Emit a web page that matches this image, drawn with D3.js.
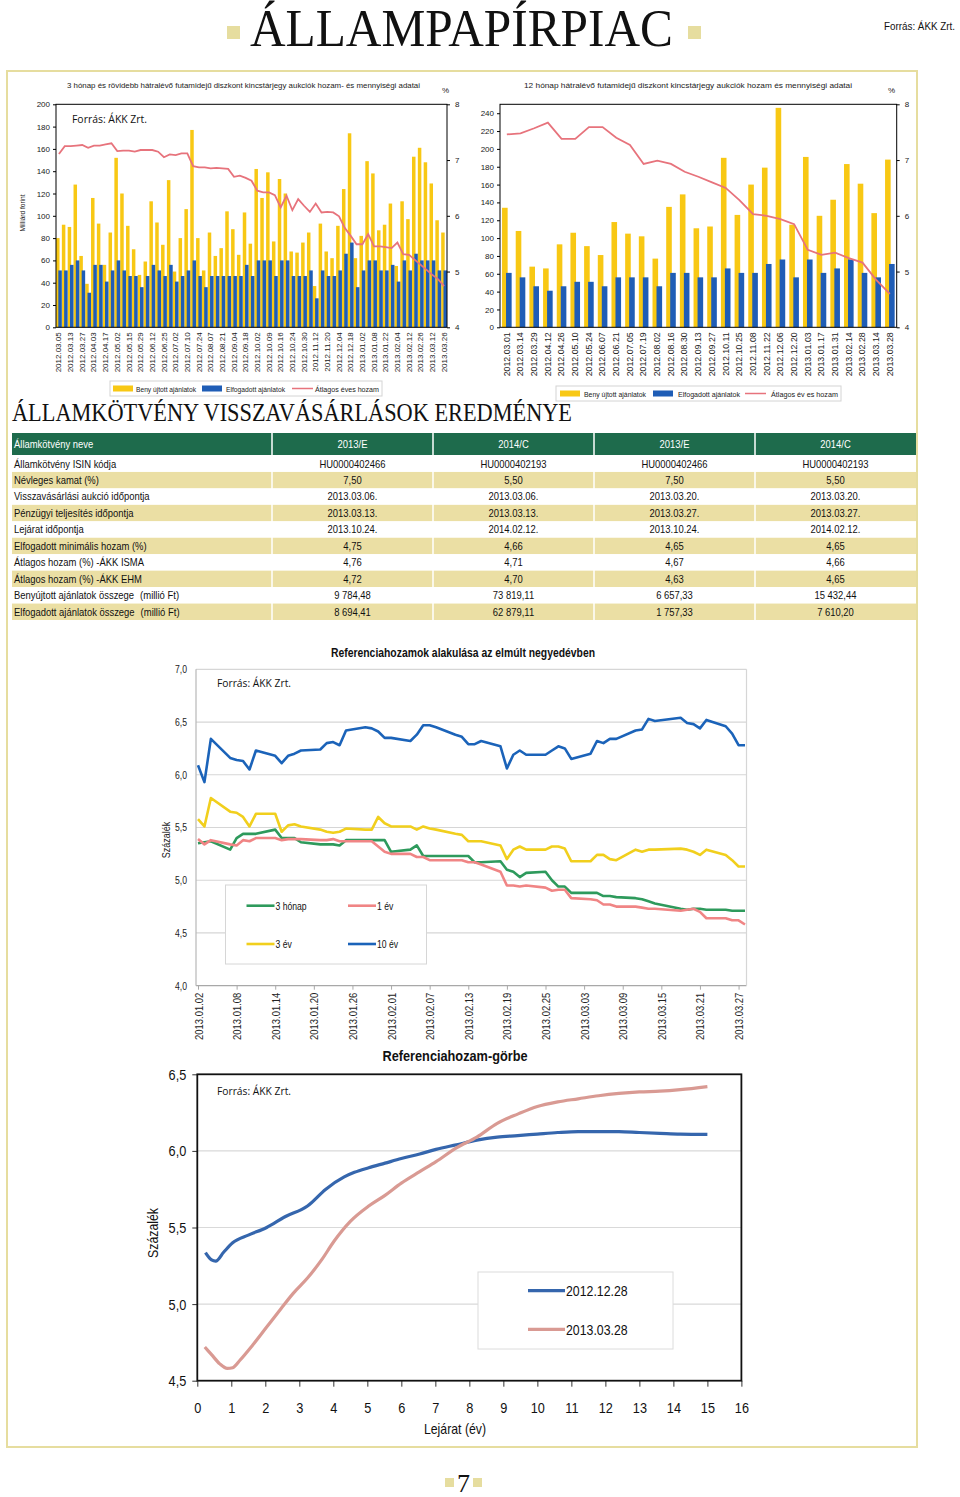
<!DOCTYPE html>
<html><head><meta charset="utf-8">
<script src="https://cdn.jsdelivr.net/npm/d3@7"></script>
<style>body{margin:0;background:#fff}svg{display:block}</style>
</head><body>
<svg id="c" width="960" height="1497"></svg>
<script>
// ---------------- DATA ----------------
const t3Labels = ["2012.03.05","2012.03.13","2012.03.27","2012.04.03","2012.04.17","2012.05.02","2012.05.15","2012.05.29","2012.06.12","2012.06.25","2012.07.02","2012.07.10","2012.07.24","2012.08.07","2012.08.21","2012.09.04","2012.09.18","2012.10.02","2012.10.09","2012.10.16","2012.10.24","2012.10.30","2012.11.12","2012.11.20","2012.12.04","2012.12.18","2013.01.02","2013.01.08","2013.01.22","2013.02.04","2013.02.12","2013.02.26","2013.03.12","2013.03.26"];
const t3Submitted = [80,92,90,128,64,39,116,93,56,85,152,120,91,70,47,59,113,94,74,132,50,80,106,177,80,51,85,64,71,104,88,65,103,75,142,116,139,77,133,120,68,67,76,85,37,93,68,62,91,124,174,62,82,149,138,87,92,111,55,113,97,153,161,148,129,96,85];
const t3Accepted = [51,51,56,60,51,31,56,56,41,51,60,51,46,46,36,46,56,51,46,56,41,46,51,60,46,36,46,46,46,46,46,46,56,46,60,60,60,46,60,60,46,46,46,51,26,51,46,46,51,66,76,36,51,60,60,51,51,56,41,60,51,66,60,60,60,51,51];
const t3Yield = [7.11,7.25,7.25,7.26,7.27,7.22,7.26,7.26,7.28,7.30,7.16,7.17,7.17,7.15,7.18,7.18,7.18,7.15,7.05,7.10,7.09,7.12,7.12,6.89,6.87,6.87,6.85,6.86,6.85,6.84,6.70,6.72,6.68,6.63,6.45,6.42,6.42,6.37,6.15,6.36,6.10,6.30,6.18,6.07,6.22,6.06,6.07,6.06,5.99,5.78,5.64,5.49,5.49,5.67,5.45,5.45,5.44,5.42,5.52,5.31,5.30,5.21,5.12,5.03,4.94,4.86,4.74];
const t3LeftTicks = [0,20,40,60,80,100,120,140,160,180,200];

const t12Labels = ["2012.03.01","2012.03.14","2012.03.29","2012.04.12","2012.04.26","2012.05.10","2012.05.24","2012.06.07","2012.06.21","2012.07.05","2012.07.19","2012.08.02","2012.08.16","2012.08.30","2012.09.13","2012.09.27","2012.10.11","2012.10.25","2012.11.08","2012.11.22","2012.12.06","2012.12.20","2013.01.03","2013.01.17","2013.01.31","2013.02.14","2013.02.28","2013.03.14","2013.03.28"];
const t12Submitted = [134,108,68,66,93,106,91,81,118,105,102,77,135,149,111,113,190,126,160,179,246,115,191,125,143,183,161,128,188];
const t12Accepted = [61,56,46,41,46,51,51,46,56,56,56,46,61,61,56,56,66,61,61,71,76,56,76,61,66,76,61,56,71];
const t12Yield = [7.46,7.48,7.57,7.67,7.38,7.38,7.59,7.59,7.40,7.27,6.93,6.99,6.93,6.79,6.70,6.60,6.50,6.28,6.03,6.00,5.94,5.85,5.39,5.30,5.34,5.24,5.16,4.85,4.60];
const t12LeftTicks = [0,20,40,60,80,100,120,140,160,180,200,220,240];
const yieldTicks = [4,5,6,7,8];

const tableHeader = ["Államkötvény neve","2013/E","2014/C","2013/E","2014/C"];
const tableRows = [
  ["Államkötvény ISIN kódja","HU0000402466","HU0000402193","HU0000402466","HU0000402193"],
  ["Névleges kamat (%)","7,50","5,50","7,50","5,50"],
  ["Visszavásárlási aukció időpontja","2013.03.06.","2013.03.06.","2013.03.20.","2013.03.20."],
  ["Pénzügyi teljesítés időpontja","2013.03.13.","2013.03.13.","2013.03.27.","2013.03.27."],
  ["Lejárat időpontja","2013.10.24.","2014.02.12.","2013.10.24.","2014.02.12."],
  ["Elfogadott minimális hozam (%)","4,75","4,66","4,65","4,65"],
  ["Átlagos hozam (%) -ÁKK ISMA","4,76","4,71","4,67","4,66"],
  ["Átlagos hozam (%) -ÁKK EHM","4,72","4,70","4,63","4,65"],
  ["Benyújtott ajánlatok összege|(millió Ft)","9 784,48","73 819,11","6 657,33","15 432,44"],
  ["Elfogadott ajánlatok összege|(millió Ft)","8 694,41","62 879,11","1 757,33","7 610,20"]
];

const refDates = ["2013-01-02","2013-01-03","2013-01-04","2013-01-07","2013-01-08","2013-01-09","2013-01-10","2013-01-11","2013-01-14","2013-01-15","2013-01-16","2013-01-17","2013-01-18","2013-01-21","2013-01-22","2013-01-23","2013-01-24","2013-01-25","2013-01-28","2013-01-29","2013-01-30","2013-01-31",
"2013-02-01","2013-02-04","2013-02-05","2013-02-06","2013-02-07","2013-02-08","2013-02-11","2013-02-12","2013-02-13","2013-02-14","2013-02-15","2013-02-18","2013-02-19","2013-02-20","2013-02-21","2013-02-22","2013-02-25","2013-02-26","2013-02-27","2013-02-28",
"2013-03-01","2013-03-04","2013-03-05","2013-03-06","2013-03-07","2013-03-08","2013-03-11","2013-03-12","2013-03-13","2013-03-14","2013-03-18","2013-03-19","2013-03-20","2013-03-21","2013-03-22","2013-03-25","2013-03-26","2013-03-27","2013-03-28"];
const ref3m = [5.35,5.36,5.37,5.29,5.40,5.44,5.44,5.44,5.48,5.40,5.40,5.40,5.36,5.34,5.34,5.34,5.33,5.38,5.38,5.38,5.38,5.38,
5.27,5.29,5.33,5.23,5.23,5.23,5.23,5.23,5.23,5.17,5.17,5.18,5.10,5.08,5.03,5.07,5.08,5.00,4.94,4.94,
4.88,4.88,4.88,4.85,4.85,4.84,4.83,4.82,4.80,4.78,4.73,4.72,4.73,4.73,4.72,4.72,4.71,4.71,4.71];
const ref1y = [5.39,5.34,5.38,5.34,5.33,5.38,5.37,5.40,5.40,5.38,5.39,5.39,5.39,5.38,5.38,5.39,5.37,5.37,5.37,5.37,5.32,5.27,
5.25,5.25,5.22,5.22,5.19,5.19,5.19,5.19,5.17,5.17,5.15,5.08,4.95,4.95,4.94,4.95,4.93,4.90,4.91,4.91,
4.83,4.82,4.81,4.77,4.77,4.75,4.75,4.74,4.73,4.73,4.71,4.72,4.73,4.70,4.64,4.64,4.62,4.62,4.58];
const ref3y = [5.58,5.51,5.78,5.65,5.64,5.60,5.51,5.63,5.63,5.46,5.52,5.53,5.51,5.48,5.46,5.45,5.46,5.49,5.48,5.48,5.60,5.54,
5.51,5.51,5.48,5.51,5.49,5.48,5.44,5.43,5.37,5.37,5.37,5.33,5.20,5.29,5.32,5.29,5.29,5.32,5.32,5.30,
5.18,5.18,5.24,5.24,5.20,5.19,5.29,5.27,5.29,5.29,5.30,5.29,5.27,5.24,5.29,5.24,5.19,5.13,5.13];
const ref10y = [6.09,5.93,6.34,6.16,6.14,6.13,6.05,6.23,6.18,6.11,6.18,6.20,6.23,6.24,6.30,6.31,6.28,6.42,6.45,6.44,6.41,6.35,
6.35,6.32,6.38,6.47,6.47,6.45,6.38,6.36,6.29,6.29,6.32,6.27,6.06,6.19,6.23,6.19,6.19,6.23,6.27,6.25,
6.15,6.20,6.32,6.30,6.34,6.34,6.42,6.43,6.53,6.51,6.54,6.49,6.48,6.44,6.52,6.46,6.39,6.28,6.28];
const refTickLabels = ["2013.01.02","2013.01.08","2013.01.14","2013.01.20","2013.01.26","2013.02.01","2013.02.07","2013.02.13","2013.02.19","2013.02.25","2013.03.03","2013.03.09","2013.03.15","2013.03.21","2013.03.27"];
const refYTicks = [4.0,4.5,5.0,5.5,6.0,6.5,7.0];

const curveMatA = [0.24,0.42,0.54,0.78,1.04,1.5,2.04,2.58,3.24,3.78,4.32,4.62,5.04,5.52,6.0,6.54,7.02,7.62,8.22,8.82,9.42,10.0,10.6,11.2,11.8,12.4,13.0,13.6,14.2,15.0];
const curve20121228 = [5.336,5.288,5.28,5.34,5.40,5.45,5.50,5.57,5.64,5.75,5.83,5.86,5.89,5.92,5.95,5.98,6.01,6.04,6.07,6.09,6.10,6.11,6.12,6.126,6.126,6.126,6.12,6.115,6.11,6.108];
const curveMatB = [0.22,0.42,0.66,0.88,1.04,1.26,1.62,2.04,2.46,2.82,3.24,3.66,4.02,4.5,5.04,5.52,6.0,6.54,7.02,7.62,8.22,8.82,9.42,10.0,10.6,11.2,11.8,12.4,13.0,13.6,14.2,15.0];
const curve20130328 = [4.72,4.67,4.61,4.58,4.585,4.635,4.73,4.85,4.97,5.07,5.17,5.29,5.41,5.54,5.64,5.71,5.79,5.865,5.93,6.02,6.09,6.18,6.24,6.29,6.32,6.34,6.36,6.375,6.385,6.39,6.40,6.42];
const curveXTicks = d3.range(0,17);
const curveYTicks = [4.5,5.0,5.5,6.0,6.5];

// ---------------- STYLE ----------------
const svg = d3.select('#c');
const NARROW = "'Liberation Sans Narrow','Arial Narrow','Liberation Sans',Arial,sans-serif";
const SANS = "'Liberation Sans',Arial,sans-serif";
const SERIF = "'Liberation Serif','DejaVu Serif',serif";
const BEIGE = '#e6dd9f';
const YEL = '#f8c814', BLU = '#1f5db6', PNK = '#e7737c';
const comma = d => d3.format('.1f')(d).replace('.', ',');
const hasNarrow = (() => { const c = document.createElement('canvas').getContext('2d');
  c.font = '20px monospace'; const a = c.measureText('abcdefghijklmnop').width;
  c.font = "20px 'Liberation Sans Narrow', monospace"; const b = c.measureText('abcdefghijklmnop').width;
  return Math.abs(a - b) > 0.5; })();

function txt(g, s, x, y, o = {}) {
  const t = g.append('text').attr('x', x).attr('y', y).text(s)
    .attr('font-family', o.ff || NARROW).attr('font-size', o.fs || 10)
    .attr('fill', o.fill || '#111').attr('text-anchor', o.anchor || 'start');
  if (o.fw) t.attr('font-weight', o.fw);
  if (o.tl) t.attr('textLength', o.tl).attr('lengthAdjust', 'spacingAndGlyphs');
  if (o.rot) t.attr('transform', `rotate(-90,${x},${y})`);
  if ((o.ff || NARROW) === NARROW && !o.tl && !hasNarrow) {
    const w = t.node().getComputedTextLength();
    t.attr('textLength', (w * 0.82).toFixed(1)).attr('lengthAdjust', 'spacingAndGlyphs');
  }
  return t;
}
function narrowSel(sel) { if (hasNarrow) return; sel.each(function () {
  const w = this.getComputedTextLength();
  this.setAttribute('textLength', (w * 0.82).toFixed(1)); this.setAttribute('lengthAdjust', 'spacingAndGlyphs'); }); }

// ---------------- HEADER ----------------
svg.append('rect').attr('x', 227).attr('y', 26).attr('width', 13).attr('height', 13).attr('fill', BEIGE);
svg.append('rect').attr('x', 688).attr('y', 26).attr('width', 13).attr('height', 13).attr('fill', BEIGE);
txt(svg, 'ÁLLAMPAPÍRPIAC', 250, 46, {ff: SERIF, fs: 52, tl: 423});
txt(svg, 'Forrás:  ÁKK Zrt.', 884, 30, {ff: SANS, fs: 10.5, tl: 71});

svg.append('rect').attr('x', 7).attr('y', 71).attr('width', 910).attr('height', 1376)
  .attr('fill', 'none').attr('stroke', BEIGE).attr('stroke-width', 2);

// ---------------- COMBO CHARTS ----------------
function combo(o) {
  const g = svg.append('g');
  const n = o.submitted.length;
  const x = d3.scaleBand().domain(d3.range(n)).range([o.x0, o.x1]);
  const yL = d3.scaleLinear().domain([0, o.leftMax]).range([o.yB, o.yT]);
  const yR = d3.scaleLinear().domain([4, 8]).range([o.yB, o.yT]);
  const c = i => x(i) + x.bandwidth() / 2;
  g.append('g').selectAll('rect').data(o.submitted).join('rect')
    .attr('x', (d, i) => c(i) - o.a).attr('width', o.a + o.b)
    .attr('y', d => yL(d)).attr('height', d => yL(0) - yL(d)).attr('fill', YEL);
  g.append('g').selectAll('rect').data(o.accepted).join('rect')
    .attr('x', (d, i) => c(i) - o.b).attr('width', o.a + o.b)
    .attr('y', d => yL(d)).attr('height', d => yL(0) - yL(d)).attr('fill', BLU);
  g.append('path').datum(o.yieldv)
    .attr('d', d3.line().x((d, i) => c(i)).y(d => yR(d)))
    .attr('fill', 'none').attr('stroke', PNK).attr('stroke-width', 1.8);
  g.append('rect').attr('x', o.x0).attr('y', o.yT).attr('width', o.x1 - o.x0).attr('height', o.yB - o.yT)
    .attr('fill', 'none').attr('stroke', '#000').attr('stroke-width', 1);
  const la = g.append('g').attr('transform', `translate(${o.x0},0)`)
    .call(d3.axisLeft(yL).tickValues(o.leftTicks).tickSize(3).tickPadding(3));
  const ra = g.append('g').attr('transform', `translate(${o.x1},0)`)
    .call(d3.axisRight(yR).tickValues(yieldTicks).tickSize(3).tickPadding(5).tickFormat(d3.format('d')));
  const idx = o.labels.map((d, i) => i * o.every);
  const ba = g.append('g').attr('transform', `translate(0,${o.yB})`)
    .call(d3.axisBottom(x).tickValues(idx).tickSize(0).tickFormat(d => o.labels[d / o.every]));
  [la, ra, ba].forEach(a => { a.select('.domain').remove();
    a.selectAll('text').attr('font-family', SANS).attr('font-size', o.fs).attr('fill', '#222'); });
  ba.selectAll('text').attr('transform', 'rotate(-90)').attr('x', -5).attr('y', 0)
    .attr('dy', '0.32em').style('text-anchor', 'end').attr('font-size', o.lfs);
  txt(g, o.title, o.titleX, 88, {ff: SANS, fs: 8, tl: o.titleW, fill: '#222'});
  txt(g, '%', o.pctX, 93, {ff: SANS, fs: 8, fill: '#222'});
  // legend
  const L = o.leg;
  g.append('rect').attr('x', L.x).attr('y', L.y).attr('width', L.w).attr('height', 15)
    .attr('fill', '#fff').attr('stroke', '#d4d4d4');
  g.append('rect').attr('x', L.s[0]).attr('y', L.y + 4.5).attr('width', 20).attr('height', 6).attr('fill', YEL);
  g.append('rect').attr('x', L.s[1]).attr('y', L.y + 4.5).attr('width', 20).attr('height', 6).attr('fill', BLU);
  g.append('line').attr('x1', L.s[2]).attr('x2', L.s[2] + 21).attr('y1', L.y + 7.5).attr('y2', L.y + 7.5)
    .attr('stroke', PNK).attr('stroke-width', 1.5);
  o.legText.forEach((s, i) => txt(g, s, L.t[i], L.y + 10.5, {ff: SANS, fs: 7.5, tl: L.tw[i], fill: '#222'}));
  return g;
}

combo({x0: 56, x1: 447, yT: 104.3, yB: 327.3, leftMax: 200, leftTicks: t3LeftTicks,
  submitted: t3Submitted, accepted: t3Accepted, yieldv: t3Yield, labels: t3Labels, every: 2,
  a: 2.9, b: 0.6, fs: 8, lfs: 8,
  title: '3 hónap és rövidebb hátralévő futamidejű diszkont kincstárjegy aukciók hozam- és mennyiségi adatai',
  titleX: 67, titleW: 353, pctX: 442,
  leg: {x: 110, y: 381, w: 272, s: [113, 202, 292], t: [136, 226, 315], tw: [60, 59, 64]},
  legText: ['Beny újtott ajánlatok', 'Elfogadott ajánlatok', 'Átlagos éves hozam']});
combo({x0: 500, x1: 896.7, yT: 104.3, yB: 327.3, leftMax: 250, leftTicks: t12LeftTicks,
  submitted: t12Submitted, accepted: t12Accepted, yieldv: t12Yield, labels: t12Labels, every: 1,
  a: 4.8, b: 0.8, fs: 8, lfs: 8.8,
  title: '12 hónap hátralévő futamidejű diszkont kincstárjegy aukciók hozam és mennyiségi adatai',
  titleX: 524, titleW: 328, pctX: 888,
  leg: {x: 556, y: 386, w: 285, s: [560, 653, 745], t: [584, 678, 771], tw: [62, 62, 67]},
  legText: ['Beny újtott ajánlatok', 'Elfogadott ajánlatok', 'Átlagos év es hozam']});
txt(svg, 'Milliárd forint', 25, 213, {ff: NARROW, fs: 8, anchor: 'middle', rot: true, fill: '#222'});
txt(svg, 'Forrás:  ÁKK Zrt.', 72, 123, {ff: "'Open Sans',sans-serif", fs: 11, tl: 75});

// ---------------- TABLE ----------------
txt(svg, 'ÁLLAMKÖTVÉNY VISSZAVÁSÁRLÁSOK EREDMÉNYE', 12, 421, {ff: SERIF, fs: 25, tl: 560});
const colX = [12, 272, 433, 594, 755, 916];
const tg = svg.append('g');
tg.append('rect').attr('x', 12).attr('y', 433).attr('width', 904).attr('height', 22).attr('fill', '#1e6b4c');
tableHeader.forEach((h, j) => {
  if (j === 0) txt(tg, h, 14, 447.5, {fs: 11.5, fill: '#fff'});
  else txt(tg, h, (colX[j] + colX[j + 1]) / 2, 447.5, {fs: 11.5, fill: '#fff', anchor: 'middle'});
});
const rowH = 16.45, row0 = 455.5;
tableRows.forEach((r, i) => {
  const y = row0 + i * rowH;
  tg.append('rect').attr('x', 12).attr('y', y).attr('width', 904).attr('height', rowH)
    .attr('fill', i % 2 ? '#ebdfa4' : '#fff');
});
tableRows.forEach((r, i) => {
  const y = row0 + i * rowH;
  const parts = r[0].split('|');
  const t = txt(tg, parts[0], 14, y + 12, {fs: 11.5});
  if (parts[1]) {
    const bb = t.node().getBBox();
    txt(tg, parts[1], Math.max(bb.x + bb.width + 6, 136), y + 12, {fs: 10, tl: 39});
  }
  r.slice(1).forEach((v, j) => txt(tg, v, (colX[j + 1] + colX[j + 2]) / 2, y + 12, {fs: 11.5, anchor: 'middle'}));
});
colX.slice(1, 5).forEach(xx => tg.append('line').attr('x1', xx).attr('x2', xx).attr('y1', 433).attr('y2', row0 + 10 * rowH)
  .attr('stroke', '#fff').attr('stroke-width', 1.5));

// ---------------- REFERENCE YIELDS ----------------
{
  const g = svg.append('g');
  const parse = d3.timeParse('%Y-%m-%d'), parseT = d3.timeParse('%Y.%m.%d');
  const dates = refDates.map(parse);
  const x = d3.scaleTime().domain([dates[0], dates[dates.length - 1]]).range([198, 745]);
  const y = d3.scaleLinear().domain([4, 7]).range([985.7, 669.3]);
  const X0 = 196, X1 = 746.5;
  refYTicks.forEach(v => g.append('line').attr('x1', X0).attr('x2', X1).attr('y1', y(v)).attr('y2', y(v))
    .attr('stroke', v === 4 ? '#a8a8a8' : '#d6d6d6').attr('stroke-width', 1.2));
  g.append('line').attr('x1', X0).attr('x2', X0).attr('y1', y(7)).attr('y2', y(4)).attr('stroke', '#b8b8b8').attr('stroke-width', 1.2);
  g.append('line').attr('x1', X1).attr('x2', X1).attr('y1', y(7)).attr('y2', y(4)).attr('stroke', '#d6d6d6').attr('stroke-width', 1.2);
  const ya = g.append('g').attr('transform', `translate(${X0},0)`)
    .call(d3.axisLeft(y).tickValues(refYTicks).tickSize(0).tickPadding(9).tickFormat(comma));
  const xa = g.append('g').attr('transform', `translate(0,${y(4)})`)
    .call(d3.axisBottom(x).tickValues(refTickLabels.map(parseT)).tickSize(4)
      .tickFormat((d, i) => refTickLabels[i]));
  [ya, xa].forEach(a => { a.select('.domain').remove();
    a.selectAll('text').attr('font-family', NARROW).attr('font-size', 10.5).attr('fill', '#222');
    a.selectAll('line').attr('stroke', '#a8a8a8'); });
  xa.selectAll('text').attr('transform', 'rotate(-90)').attr('x', -7).attr('y', 0).attr('dy', '0.35em')
    .style('text-anchor', 'end').attr('font-size', 11.5);
  narrowSel(ya.selectAll('text')); narrowSel(xa.selectAll('text'));
  const series = [[ref3m, '#2e9a5c', '3 hónap'], [ref1y, '#f08585', '1 év'], [ref3y, '#f1cf1d', '3 év'], [ref10y, '#1b63b9', '10 év']];
  series.forEach(([vals, col]) => g.append('path').datum(vals)
    .attr('d', d3.line().x((d, i) => x(dates[i])).y(d => y(d)))
    .attr('fill', 'none').attr('stroke', col).attr('stroke-width', 2.6).attr('stroke-linejoin', 'round'));
  txt(g, 'Referenciahozamok alakulása az elmúlt negyedévben', 463, 657, {fs: 12.5, fw: 'bold', anchor: 'middle', tl: 264});
  txt(g, 'Forrás:  ÁKK Zrt.', 217, 687, {ff: "'Open Sans',sans-serif", fs: 10.5, tl: 74});
  txt(g, 'Százalék', 170, 840, {fs: 11, anchor: 'middle', rot: true, fill: '#222'});
  g.append('rect').attr('x', 225.5).attr('y', 885).attr('width', 201).attr('height', 79)
    .attr('fill', '#fff').attr('stroke', '#d6d6d6').attr('stroke-width', 1);
  const lp = [[246.5, 905.7], [348, 905.7], [246.5, 944], [348, 944]];
  series.forEach(([v, col, name], i) => {
    g.append('line').attr('x1', lp[i][0]).attr('x2', lp[i][0] + 28).attr('y1', lp[i][1]).attr('y2', lp[i][1])
      .attr('stroke', col).attr('stroke-width', 2.6);
    txt(g, name, lp[i][0] + 29, lp[i][1] + 3.8, {fs: 10.5});
  });
}

// ---------------- YIELD CURVE ----------------
{
  const g = svg.append('g');
  const x = d3.scaleLinear().domain([0, 16]).range([197.3, 741.4]);
  const y = d3.scaleLinear().domain([4.5, 6.5]).range([1380.7, 1074.3]);
  [5, 5.5, 6].forEach(v => g.append('line').attr('x1', x(0)).attr('x2', x(16)).attr('y1', y(v)).attr('y2', y(v))
    .attr('stroke', '#d9d9d9').attr('stroke-width', 1.2));
  const ya = g.append('g').attr('transform', `translate(${x(0)},0)`)
    .call(d3.axisLeft(y).tickValues(curveYTicks).tickSize(5).tickPadding(6).tickFormat(comma));
  const xa = g.append('g').attr('transform', `translate(0,${y(4.5)})`)
    .call(d3.axisBottom(x).tickValues(curveXTicks).tickSize(6).tickPadding(15).tickFormat(d3.format('d')));
  [ya, xa].forEach(a => { a.select('.domain').remove();
    a.selectAll('text').attr('font-family', NARROW).attr('font-size', 15.5).attr('fill', '#111');
    a.selectAll('line').attr('stroke', '#333'); narrowSel(a.selectAll('text')); });
  g.append('path').datum(curve20121228)
    .attr('d', d3.line().curve(d3.curveMonotoneX).x((d, i) => x(curveMatA[i])).y(d => y(d)))
    .attr('fill', 'none').attr('stroke', '#3566ad').attr('stroke-width', 3.2);
  g.append('path').datum(curve20130328)
    .attr('d', d3.line().curve(d3.curveMonotoneX).x((d, i) => x(curveMatB[i])).y(d => y(d)))
    .attr('fill', 'none').attr('stroke', '#d99a93').attr('stroke-width', 3.2);
  g.append('rect').attr('x', x(0)).attr('y', y(6.5)).attr('width', x(16) - x(0)).attr('height', y(4.5) - y(6.5))
    .attr('fill', 'none').attr('stroke', '#111').attr('stroke-width', 1.8);
  txt(g, 'Referenciahozam-görbe', 455, 1061, {fs: 15, fw: 'bold', anchor: 'middle', tl: 145});
  txt(g, 'Forrás:  ÁKK Zrt.', 217, 1095, {ff: "'Open Sans',sans-serif", fs: 10.5, tl: 74});
  txt(g, 'Lejárat (év)', 455, 1434, {fs: 15, anchor: 'middle'});
  txt(g, 'Százalék', 158, 1233, {fs: 15, anchor: 'middle', rot: true});
  g.append('rect').attr('x', 478).attr('y', 1272).attr('width', 195).attr('height', 77)
    .attr('fill', '#fff').attr('stroke', '#dcdcdc');
  [['2012.12.28', '#3566ad', 1290.7], ['2013.03.28', '#d99a93', 1329.3]].forEach(([s, col, yy]) => {
    g.append('line').attr('x1', 528).attr('x2', 565).attr('y1', yy).attr('y2', yy).attr('stroke', col).attr('stroke-width', 3.2);
    txt(g, s, 566, yy + 5.5, {fs: 15});
  });
}

// page number
svg.append('rect').attr('x', 445).attr('y', 1478).attr('width', 9).attr('height', 9).attr('fill', BEIGE);
svg.append('rect').attr('x', 473).attr('y', 1478).attr('width', 9).attr('height', 9).attr('fill', BEIGE);
txt(svg, '7', 463.5, 1492, {ff: SERIF, fs: 26, anchor: 'middle'});
</script>
</body></html>
